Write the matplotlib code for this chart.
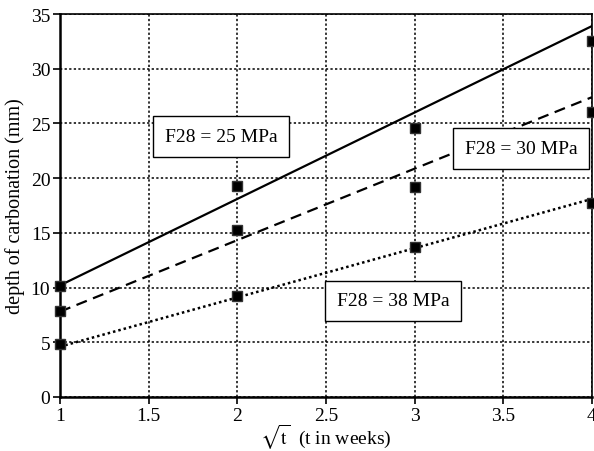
import matplotlib
matplotlib.use("Agg")
import matplotlib.pyplot as plt
import numpy as np

plt.rcParams['font.family'] = ['Liberation Serif', 'DejaVu Serif']
plt.rcParams['mathtext.fontset'] = 'stix'

# measured points (sqrt of weeks vs depth, mm)
x_pts = [1, 2, 3, 4]
f25_pts = [10.1, 19.3, 24.6, 32.5]
f30_pts = [7.9, 15.3, 19.2, 26.0]
f38_pts = [4.8, 9.2, 13.7, 17.7]

# model lines, end values at x = 1 and x = 4
x_line = [1, 4]
f25_line = [10.2, 33.9]
f30_line = [7.8, 27.4]
f38_line = [4.6, 18.1]

labels = ['F28 = 25 MPa', 'F28 = 30 MPa', 'F28 = 38 MPa']
label_pos = [(1.91, 23.8), (3.60, 22.7), (2.88, 8.8)]

fig = plt.figure(figsize=(5.94, 4.52), dpi=100)
ax = fig.add_axes([0.101, 0.1195, 0.8956, 0.8473])

ax.plot(x_line, f25_line, color='black', lw=1.6, ls='-')
ax.plot(x_line, f30_line, color='black', lw=1.6, ls=(0, (5, 3)))
ax.plot(x_line, f38_line, color='black', lw=1.8, ls=(0, (1, 1.2)))

for ys in (f25_pts, f30_pts, f38_pts):
    ax.plot(x_pts, ys, ls='none', marker='s', ms=6.5, color='black',
            mec='#333333', clip_on=False, zorder=5)

for txt, (tx, ty) in zip(labels, label_pos):
    ax.text(tx, ty, txt, ha='center', va='center', fontsize=14, zorder=6,
            bbox=dict(boxstyle='square,pad=0.6', fc='white', ec='black', lw=1.0))

ax.set_xlim(1, 4)
ax.set_ylim(0, 35)
ax.set_xticks(np.arange(1, 4.01, 0.5))
ax.set_xticklabels(['1', '1.5', '2', '2.5', '3', '3.5', '4'])
ax.set_yticks(np.arange(0, 36, 5))
ax.grid(True, color='black', ls=(0, (1.5, 1.5)), lw=1.1)
ax.tick_params(direction='out', length=5, width=1.2, labelsize=14, pad=2)

for side in ('left', 'bottom'):
    ax.spines[side].set_linewidth(1.8)
for side in ('top', 'right'):
    ax.spines[side].set_linewidth(1.2)

ax.set_ylabel('depth of carbonation (mm)', fontsize=14.5, labelpad=4)
ax.set_xlabel(r'$\sqrt{\mathrm{t}}$  (t in weeks)', fontsize=14, labelpad=-1)

fig.savefig('out.png', dpi=100)
